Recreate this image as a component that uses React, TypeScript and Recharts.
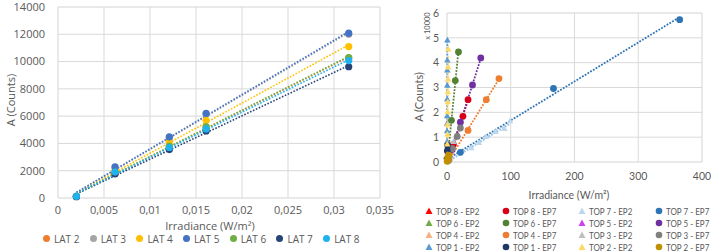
import React from 'react';
import { ComposedChart, Scatter, XAxis, YAxis, CartesianGrid } from 'recharts';

// ---------- Left chart data ----------
const latIrradiance = [0.002, 0.0062, 0.0121, 0.0161, 0.0316];
const lat2 = [110, 1900, 3780, 5180, 10250];
const lat3 = [120, 2230, 4420, 6150, 12000];
const lat4 = [120, 2000, 4110, 5700, 11100];
const lat5 = [130, 2280, 4480, 6200, 12080];
const lat6 = [110, 1900, 3800, 5230, 10290];
const lat7 = [100, 1760, 3550, 4910, 9620];
const lat8 = [120, 1900, 3700, 5060, 10070];
const latNames = ['LAT 2', 'LAT 3', 'LAT 4', 'LAT 5', 'LAT 6', 'LAT 7', 'LAT 8'];
const latColors = ['#ED7D31', '#A5A5A5', '#FFC000', '#4472C4', '#70AD47', '#264478', '#1FB2EE'];
const latValues = [lat2, lat3, lat4, lat5, lat6, lat7, lat8];
const leftXTicks = [0, 0.005, 0.01, 0.015, 0.02, 0.025, 0.03, 0.035];
const leftYTicks = [0, 2000, 4000, 6000, 8000, 10000, 12000, 14000];

// ---------- Right chart data ----------
const top8ep2X = [0.3, 0.8, 1.5, 2.5];
const top8ep2Y = [800, 2200, 4200, 7000];
const top8ep7X = [3, 10, 25, 33];
const top8ep7Y = [2000, 7000, 18400, 25100];
const top7ep2X = [5, 20, 38, 50, 61, 76, 90, 99];
const top7ep2Y = [900, 3400, 5500, 7600, 10000, 12000, 13200, 16400];
const top7ep7X = [2, 21, 167, 365];
const top7ep7Y = [500, 3900, 29600, 57300];
const top6ep2X = [0.2, 0.5, 1, 1.5];
const top6ep2Y = [600, 1500, 3000, 4500];
const top6ep7X = [1, 7, 13, 18];
const top6ep7Y = [1500, 16800, 32800, 44300];
const top5ep2X = [0.5, 1, 2, 3];
const top5ep2Y = [700, 1500, 3000, 4500];
const top5ep7X = [2, 8, 21, 40, 53];
const top5ep7Y = [1000, 5000, 16000, 31000, 41900];
const top4ep2X = [0.5, 1.5, 3, 4];
const top4ep2Y = [300, 900, 1800, 2500];
const top4ep7X = [3, 33, 61.6, 81.5];
const top4ep7Y = [1000, 12700, 25100, 33600];
const top3ep2X = [1, 3, 6, 10];
const top3ep2Y = [800, 2500, 5000, 8000];
const top3ep7X = [2, 8, 16, 21];
const top3ep7Y = [1500, 5500, 10300, 13700];
const top1ep2X = [0.03, 0.08, 0.12, 0.18, 0.22, 0.26, 0.33, 0.38, 0.45, 0.5, 0.6];
const top1ep2Y = [2000, 5000, 8000, 12300, 15400, 18400, 25100, 30700, 36800, 40800, 48900];
const top1ep7X = [0.2, 0.5, 1];
const top1ep7Y = [1500, 4500, 6600];
const top2ep2X = [0.2, 0.4, 0.6, 0.8, 1.0, 1.2, 1.4, 1.6, 1.8, 2.0];
const top2ep2Y = [2800, 7000, 11000, 15000, 20000, 24000, 28000, 33200, 38000, 45300];
const top2ep7X = [0.3, 0.8, 1.5, 2.5];
const top2ep7Y = [300, 800, 1500, 2800];

const topNames = [
  'TOP 8 - EP2', 'TOP 8 - EP7', 'TOP 7 - EP2', 'TOP 7 - EP7',
  'TOP 6 - EP2', 'TOP 6 - EP7', 'TOP 5 - EP2', 'TOP 5 - EP7',
  'TOP 4 - EP2', 'TOP 4 - EP7', 'TOP 3 - EP2', 'TOP 3 - EP7',
  'TOP 1 - EP2', 'TOP 1 - EP7', 'TOP 2 - EP2', 'TOP 2 - EP7',
];
const topColors = [
  '#FF0000', '#D9001B', '#BDD7EE', '#2E75B6',
  '#70AD47', '#548235', '#CC44EE', '#7030A0',
  '#F4B183', '#ED7D31', '#BFBFBF', '#7F7F7F',
  '#5B9BD5', '#203864', '#FFD966', '#BF9000',
];
const topXs = [top8ep2X, top8ep7X, top7ep2X, top7ep7X, top6ep2X, top6ep7X, top5ep2X, top5ep7X,
  top4ep2X, top4ep7X, top3ep2X, top3ep7X, top1ep2X, top1ep7X, top2ep2X, top2ep7X];
const topYs = [top8ep2Y, top8ep7Y, top7ep2Y, top7ep7Y, top6ep2Y, top6ep7Y, top5ep2Y, top5ep7Y,
  top4ep2Y, top4ep7Y, top3ep2Y, top3ep7Y, top1ep2Y, top1ep7Y, top2ep2Y, top2ep7Y];
const rightXTicks = [0, 100, 200, 300, 400];
const rightYTicks = [0, 10000, 20000, 30000, 40000, 50000, 60000];

// minor gridline positions
const leftMinorX = Array.from({ length: 36 }, (_, i) => +(i * 0.001).toFixed(4));
const leftMinorY = Array.from({ length: 36 }, (_, i) => i * 400);
const rightMinorX = Array.from({ length: 21 }, (_, i) => i * 20);
const rightMinorY = Array.from({ length: 31 }, (_, i) => i * 2000);

const TXT = '#595959';

function toPoints(xs: number[], ys: number[]) {
  return xs.map((x, i) => ({ x, y: ys[i] }));
}
function trend(xs: number[], ys: number[]) {
  const n = xs.length;
  const mx = xs.reduce((a, b) => a + b, 0) / n;
  const my = ys.reduce((a, b) => a + b, 0) / n;
  let num = 0, den = 0;
  for (let i = 0; i < n; i++) { num += (xs[i] - mx) * (ys[i] - my); den += (xs[i] - mx) ** 2; }
  const b = num / den;
  const a = my - b * mx;
  const x0 = Math.min(...xs), x1 = Math.max(...xs);
  return [{ x: x0, y: a + b * x0 }, { x: x1, y: a + b * x1 }];
}
const circleShape = (color: string, r: number) => (p: any) =>
  <circle cx={p.cx} cy={p.cy} r={r} fill={color} />;
const triShape = (color: string, s: number) => (p: any) => {
  const { cx, cy } = p;
  return <polygon points={`${cx},${cy - s} ${cx + s * 0.87},${cy + s * 0.5} ${cx - s * 0.87},${cy + s * 0.5}`} fill={color} />;
};
const noShape = () => <g />;

const rot = (cx: number, cy: number, text: string, size: number, font: string) => (
  <div style={{ position: 'absolute', left: cx, top: cy, transform: 'translate(-50%,-50%) rotate(-90deg)', whiteSpace: 'nowrap', fontSize: size, color: TXT, fontFamily: font, lineHeight: 1 }}>{text}</div>
);

const LEFT_FONT = '"Open Sans", "DejaVu Sans", sans-serif';
const RIGHT_FONT = 'Lato, "Liberation Sans", sans-serif';

function LeftChart() {
  return (
    <ComposedChart width={395} height={252} margin={{ top: 7, right: 15, bottom: 0, left: 0 }}>
      <XAxis xAxisId="m" type="number" dataKey="x" domain={[0, 0.035]} ticks={leftMinorX} hide />
      <YAxis yAxisId="m" type="number" dataKey="y" domain={[0, 14000]} ticks={leftMinorY} hide />
      <CartesianGrid xAxisId="m" yAxisId="m" stroke="#F2F2F2" strokeWidth={1} />
      <CartesianGrid stroke="#D9D9D9" strokeWidth={1} />
      <XAxis type="number" dataKey="x" domain={[0, 0.035]} ticks={leftXTicks} height={54}
        axisLine={false} tickLine={false}
        tick={{ fill: TXT, fontSize: 11, fontFamily: LEFT_FONT }}
        tickFormatter={(v: number) => String(v).replace('.', ',')} />
      <YAxis type="number" dataKey="y" domain={[0, 14000]} ticks={leftYTicks} width={58}
        axisLine={false} tickLine={false} tickMargin={7}
        tick={{ fill: TXT, fontSize: 11, fontFamily: LEFT_FONT }} />
      {latValues.map((vals, i) => (
        <Scatter key={'t' + i} data={trend(latIrradiance, vals)} fill={latColors[i]} shape={noShape}
          line={{ stroke: latColors[i], strokeWidth: 1.6, strokeDasharray: '1.6 1.6' }}
          isAnimationActive={false} />
      ))}
      {latValues.map((vals, i) => (
        <Scatter key={'p' + i} name={latNames[i]} data={toPoints(latIrradiance, vals)} fill={latColors[i]}
          shape={circleShape(latColors[i], 3.6)} isAnimationActive={false} />
      ))}
    </ComposedChart>
  );
}

function RightChart() {
  return (
    <ComposedChart width={316} height={252} margin={{ top: 13, right: 9, bottom: 0, left: 0 }}>
      <XAxis xAxisId="m" type="number" dataKey="x" domain={[0, 400]} ticks={rightMinorX} hide />
      <YAxis yAxisId="m" type="number" dataKey="y" domain={[0, 60000]} ticks={rightMinorY} hide />
      <CartesianGrid xAxisId="m" yAxisId="m" stroke="#F2F2F2" strokeWidth={1} />
      <CartesianGrid stroke="#D9D9D9" strokeWidth={1} />
      <XAxis type="number" dataKey="x" domain={[0, 400]} ticks={rightXTicks} height={90}
        axisLine={false} tickLine={false} tickMargin={5}
        tick={{ fill: TXT, fontSize: 10.5, fontFamily: RIGHT_FONT }} />
      <YAxis type="number" dataKey="y" domain={[0, 60000]} ticks={rightYTicks} width={52}
        axisLine={false} tickLine={false}
        tick={{ fill: TXT, fontSize: 10.5, fontFamily: RIGHT_FONT }}
        tickFormatter={(v: number) => String(v / 10000)} />
      {topXs.map((xs, i) => (
        <Scatter key={'t' + i} data={trend(xs, topYs[i])} fill={topColors[i]} shape={noShape}
          line={{ stroke: i === 2 ? '#9DC3E6' : topColors[i], strokeWidth: i === 2 ? 2.4 : 1.8, strokeDasharray: '1.8 1.4' }}
          isAnimationActive={false} />
      ))}
      {topXs.map((xs, i) => (
        <Scatter key={'p' + i} name={topNames[i]} data={toPoints(xs, topYs[i])} fill={topColors[i]}
          shape={i % 2 === 0 ? triShape(topColors[i], 3.8) : circleShape(topColors[i], 3.4)}
          isAnimationActive={false} />
      ))}
    </ComposedChart>
  );
}

export default function App() {
  return (
    <div style={{ position: 'absolute', left: 0, top: 0, width: 711, height: 252, background: '#fff', overflow: 'hidden' }}>
      <div style={{ position: 'absolute', left: 0, top: 0 }}><LeftChart /></div>
      <div style={{ position: 'absolute', left: 395, top: 0 }}><RightChart /></div>

      {/* Left titles */}
      <div style={{ position: 'absolute', left: 210, top: 224.8, transform: 'translate(-50%,-50%)', whiteSpace: 'nowrap', fontSize: 11, color: TXT, fontFamily: LEFT_FONT, lineHeight: '11px' }}>
        Irradiance (W/m²)
      </div>
      {rot(10, 100, 'A (Counts)', 11, LEFT_FONT)}

      {/* Left legend */}
      <div style={{ position: 'absolute', left: 43, top: 233.8, width: 330, display: 'flex', fontFamily: LEFT_FONT, fontSize: 10, color: TXT, lineHeight: '10px' }}>
        {latNames.map((n, i) => (
          <div key={n} style={{ width: 46.7, flex: '0 0 46.7px', display: 'flex', alignItems: 'center', whiteSpace: 'nowrap' }}>
            <span style={{ display: 'inline-block', width: 7, height: 7, borderRadius: '50%', background: latColors[i], marginRight: 4 }} />
            <span>{n}</span>
          </div>
        ))}
      </div>

      {/* Right titles */}
      <div style={{ position: 'absolute', left: 569, top: 195, transform: 'translate(-50%,-50%)', whiteSpace: 'nowrap', fontSize: 10.5, color: TXT, fontFamily: RIGHT_FONT, lineHeight: 1 }}>
        Irradiance (W/m²)
      </div>
      {rot(418, 97, 'A (Counts)', 11, RIGHT_FONT)}
      {rot(428, 26, 'x 10000', 7.5, RIGHT_FONT)}

      {/* Right legend */}
      <div style={{ position: 'absolute', left: 425, top: 205, width: 286, display: 'grid', gridTemplateColumns: 'repeat(4, 76.7px)', gridAutoRows: '12px', fontFamily: RIGHT_FONT, fontSize: 10, color: TXT }}>
        {topNames.map((n, i) => (
          <div key={n} style={{ display: 'flex', alignItems: 'center', whiteSpace: 'nowrap', lineHeight: '12px', overflow: 'visible' }}>
            <svg width={8} height={8} style={{ marginRight: 3, flex: '0 0 8px' }}>
              {i % 2 === 0
                ? <polygon points="4,0.5 7.5,7 0.5,7" fill={topColors[i]} />
                : <circle cx={4} cy={4} r={3.3} fill={topColors[i]} />}
            </svg>
            <span style={{ display: 'inline-block', transform: 'scaleX(0.8)', transformOrigin: 'left center' }}>{n}</span>
          </div>
        ))}
      </div>
    </div>
  );
}
